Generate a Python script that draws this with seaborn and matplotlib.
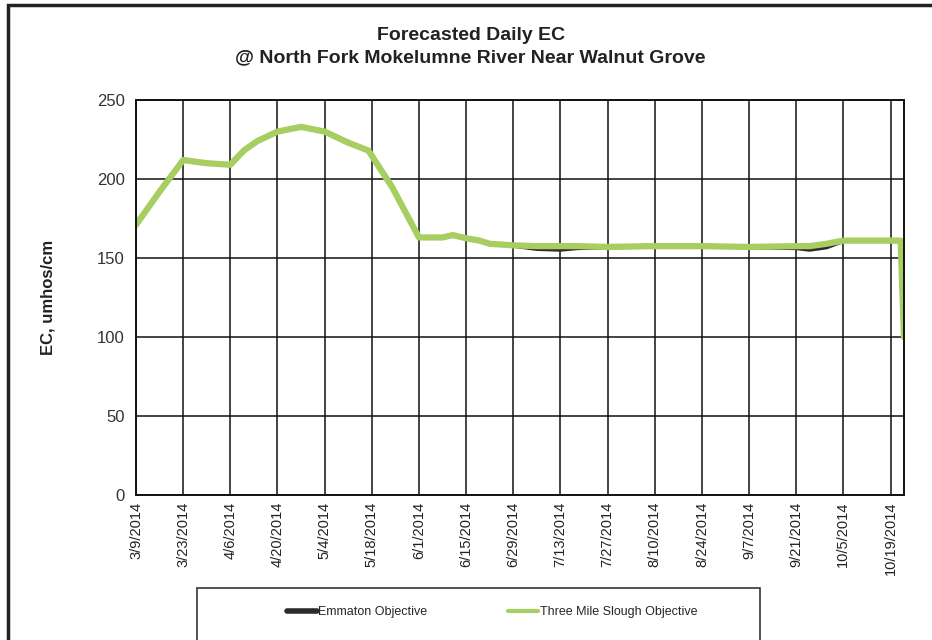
import matplotlib
matplotlib.use("Agg")
import matplotlib.pyplot as plt
import numpy as np
import pandas as pd
import seaborn as sns
from matplotlib.patches import Rectangle

# ----------------------- data ----------------------- #
dates = ['2014-03-09', '2014-03-16', '2014-03-23', '2014-03-30', '2014-04-06',
         '2014-04-10', '2014-04-14', '2014-04-20', '2014-04-27', '2014-05-04',
         '2014-05-11', '2014-05-17', '2014-05-24', '2014-06-01', '2014-06-08',
         '2014-06-11', '2014-06-15', '2014-06-19', '2014-06-22', '2014-06-29',
         '2014-07-06', '2014-07-13', '2014-07-18', '2014-07-27', '2014-08-10',
         '2014-08-24', '2014-09-07', '2014-09-21', '2014-09-25', '2014-09-30',
         '2014-10-05', '2014-10-19', '2014-10-22', '2014-10-23']

three_mile = [171, 192, 212, 210, 209,
              218, 224, 230, 233, 230,
              223, 218, 195, 163, 163,
              164.5, 162.5, 161, 159, 158,
              157.5, 157.5, 157.5, 157, 157.5,
              157.5, 157, 157.5, 157.5, 159,
              161, 161, 161, 100]

emmaton = [171, 192, 212, 210, 209,
           218, 224, 230, 233, 230,
           223, 218, 195, 163, 163,
           164.5, 162.5, 161, 159, 158,
           156, 155.5, 156.5, 157, 157.5,
           157.5, 157, 156.5, 155.5, 157,
           161, 161, 161, 100]

tick_dates = pd.date_range('2014-03-09', '2014-10-19', freq='14D')
series_names = ['Emmaton Objective', 'Three Mile Slough Objective']
colors = {'Emmaton Objective': '#2b2b2b', 'Three Mile Slough Objective': '#a6ce60'}

df = pd.concat([
    pd.DataFrame({'date': pd.to_datetime(dates), 'EC': emmaton, 'series': series_names[0]}),
    pd.DataFrame({'date': pd.to_datetime(dates), 'EC': three_mile, 'series': series_names[1]}),
])

# ----------------------- plotting ----------------------- #
sns.set_style('white')
plt.rcParams['font.family'] = ['Liberation Sans', 'DejaVu Sans']

fig = plt.figure(figsize=(9.32, 6.4), dpi=100)
ax = fig.add_axes([136 / 932, 1 - 495 / 640, (904 - 136) / 932, (495 - 100) / 640])

sns.lineplot(data=df[df['series'] == series_names[0]], x='date', y='EC', color=colors[series_names[0]],
             lw=3.5, ax=ax, label=series_names[0])
sns.lineplot(data=df[df['series'] == series_names[1]], x='date', y='EC', color=colors[series_names[1]],
             lw=4.5, ax=ax, label=series_names[1], solid_capstyle='round')

ax.set_xlim(pd.Timestamp('2014-03-09'), pd.Timestamp('2014-10-23'))
ax.set_ylim(0, 250)
ax.set_yticks(np.arange(0, 251, 50))
ax.set_xticks(tick_dates)
ax.set_xticklabels([f'{d.month}/{d.day}/{d.year}' for d in tick_dates], rotation=90,
                   fontsize=10.5, color='#222222')
ax.tick_params(axis='y', labelsize=12, labelcolor='#333333', direction='inout', length=8, width=1, pad=4)
ax.tick_params(axis='x', direction='inout', length=8, width=1, pad=1)
ax.grid(True, color='#111111', lw=1.1)
for s in ax.spines.values():
    s.set_color('#111111')
    s.set_linewidth(1.4)

ax.set_xlabel('')
ax.set_ylabel('EC, umhos/cm', fontsize=12, fontweight='bold', color='#222222', labelpad=30)

fig.text(0.505, 0.927, 'Forecasted Daily EC\n@ North Fork Mokelumne River Near Walnut Grove',
         ha='center', va='center', fontsize=14, fontweight='bold', color='#222222',
         family=['Liberation Sans Narrow', 'Liberation Sans'], linespacing=1.45)

# legend box below the plot
fig.patches.append(Rectangle((197 / 932, -0.02), (760 - 197) / 932, 1 - 588 / 640 + 0.02,
                             transform=fig.transFigure, fill=False, edgecolor='#333333', lw=1.2))
leg = ax.legend(loc='center', bbox_to_anchor=(492 / 932, 1 - 612 / 640),
                bbox_transform=fig.transFigure, ncol=2, frameon=False,
                prop={'family': ['Liberation Sans Narrow', 'Liberation Sans'], 'size': 9},
                handlelength=2.4, handletextpad=0.1, columnspacing=6.5, borderaxespad=0)
leg.legend_handles[0].set_linewidth(4)
leg.legend_handles[1].set_linewidth(3)

# page border of the scanned chart
fig.patches.append(Rectangle((8 / 932, -0.05), 1.2, 1 - 5 / 640 + 0.05, transform=fig.transFigure,
                             fill=False, edgecolor='#222222', lw=2.5))

fig.savefig('out.png', dpi=100)
